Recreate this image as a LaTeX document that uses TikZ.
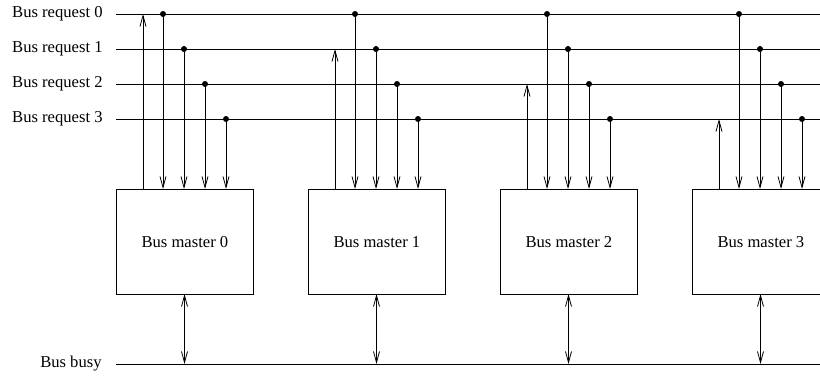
\documentclass[tikz,border=0pt]{standalone}
\usepackage{fontspec}
\setmainfont{Liberation Serif}
\usetikzlibrary{arrows.meta}
\begin{document}
\begin{tikzpicture}[x=1pt,y=-1pt,line width=0.8pt,
  lbl/.style={font=\fontsize{16.6}{18}\selectfont,anchor=east,inner sep=0pt},
  master/.style={draw,minimum width=137pt,minimum height=105pt,inner sep=0pt,anchor=north west,font=\fontsize{16.6}{18}\selectfont},
  sig/.style={-{Straight Barb[length=11pt,width=6pt]}},
  bidir/.style={{Straight Barb[length=11pt,width=6pt]}-{Straight Barb[length=11pt,width=6pt]}},
  dot/.style={circle,fill,inner sep=0pt,minimum size=6pt}]
\useasboundingbox (0,0) rectangle (820,378);
% bus request lines
\foreach \j/\y in {0/14,1/49,2/84,3/119}{
  \coordinate (rs\j) at (116,\y);
  \coordinate (re\j) at (820,\y);
  \node[lbl] (rl\j) at (103,\y) {Bus request \j};
  \draw (rs\j) -- (re\j);
}
% bus busy line
\coordinate (bs) at (116,364);
\coordinate (be) at (820,364);
\node[lbl] (bl) at (102,364) {Bus busy};
\draw (bs) -- (be);
% masters
\foreach \i in {0,1,2,3}{
  \pgfmathsetmacro{\L}{116+192*\i}
  \node[master] (m\i) at (\L,189) {Bus master \i};
  % request (up) arrow to own line
  \coordinate (ub\i) at (\L+27,189);
  \coordinate (ut\i) at (\L+27,14+35*\i);
  \draw[sig] (ub\i) -- (ut\i);
  % monitored lines (down arrows with dots)
  \foreach \j in {0,1,2,3}{
    \coordinate (dt\i\j) at (\L+47+21*\j,14+35*\j);
    \coordinate (db\i\j) at (\L+47+21*\j,189);
    \node[dot] (dd\i\j) at (dt\i\j) {};
    \draw[sig] (dt\i\j) -- (db\i\j);
  }
  % bus busy connection
  \coordinate (bb\i) at (\L+68.5,294);
  \coordinate (bt\i) at (\L+68.5,364);
  \draw[bidir] (bb\i) -- (bt\i);
}
\end{tikzpicture}
\end{document}
